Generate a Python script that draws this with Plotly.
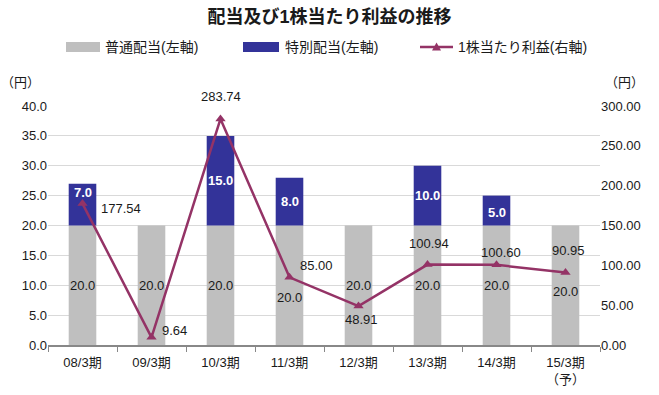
import plotly.graph_objects as go

categories = ["08/3期", "09/3期", "10/3期", "11/3期", "12/3期", "13/3期", "14/3期", "15/3期<br>（予）"]
regular_div = [20.0, 20.0, 20.0, 20.0, 20.0, 20.0, 20.0, 20.0]
special_div = [7.0, None, 15.0, 8.0, None, 10.0, 5.0, None]
eps = [177.54, 9.64, 283.74, 85.00, 48.91, 100.94, 100.60, 90.95]

FONT = "Liberation Sans, Noto Sans CJK JP, sans-serif"
GRAY = "#BFBFBF"
BLUE = "#333399"
LINE = "#943366"
TXT = "#1a1a1a"

# label offsets in pixels (layout only)
reg_yshift = [0, 0, 0, -12, 0, 0, 0, -6]
spec_yshift = [12, 0, 0, 0, 0, 0, -2, 0]
eps_shift = [(38, -5), (23, 7), (0, 22), (27, 12), (3, -13), (1, 21), (4, 12), (3, 22)]

fig = go.Figure()
fig.add_trace(go.Bar(
    x=categories, y=regular_div, name="普通配当(左軸)",
    marker=dict(color=GRAY, line=dict(width=0)),
    yaxis="y", offsetgroup="a", showlegend=False,
))
fig.add_trace(go.Bar(
    x=categories, y=special_div, name="特別配当(左軸)",
    marker=dict(color=BLUE, line=dict(width=0)),
    yaxis="y", offsetgroup="a", base=regular_div, showlegend=False,
))
fig.add_trace(go.Scatter(
    x=categories, y=eps, name="1株当たり利益(右軸)", yaxis="y2",
    mode="lines+markers",
    line=dict(color=LINE, width=2.5),
    marker=dict(symbol="triangle-up", size=9, color=LINE),
    showlegend=False,
))

annotations = []
for i, c in enumerate(categories):
    annotations.append(dict(
        x=c, y=regular_div[i] / 2, xref="x", yref="y", text=f"{regular_div[i]:.1f}",
        showarrow=False, yshift=reg_yshift[i], font=dict(size=13, color=TXT)))
    if special_div[i] is not None:
        annotations.append(dict(
            x=c, y=regular_div[i] + special_div[i] / 2, xref="x", yref="y",
            text=f"<b>{special_div[i]:.1f}</b>", showarrow=False, yshift=spec_yshift[i],
            font=dict(size=13, color="white")))
    annotations.append(dict(
        x=c, y=eps[i], xref="x", yref="y2", text=f"{eps[i]:.2f}", showarrow=False,
        xshift=eps_shift[i][0], yshift=eps_shift[i][1], font=dict(size=13, color=TXT)))

# unit labels
annotations.append(dict(text="（円）", xref="paper", yref="paper", x=-0.05, y=1.1,
                        xanchor="center", yanchor="middle", showarrow=False, font=dict(size=13)))
annotations.append(dict(text="（円）", xref="paper", yref="paper", x=1.045, y=1.1,
                        xanchor="center", yanchor="middle", showarrow=False, font=dict(size=13)))

# manual legend (wide swatches like the reference)
def px_x(px):
    return (px - 48) / 552

def px_y(py):
    return (345 - py) / 239

LEG_Y = 47
TRI_X = 436.5
shapes = [
    dict(type="rect", xref="paper", yref="paper", x0=px_x(66), x1=px_x(100),
         y0=px_y(LEG_Y + 5), y1=px_y(LEG_Y - 5), fillcolor=GRAY, line=dict(width=0)),
    dict(type="rect", xref="paper", yref="paper", x0=px_x(243), x1=px_x(279),
         y0=px_y(LEG_Y + 5), y1=px_y(LEG_Y - 5), fillcolor=BLUE, line=dict(width=0)),
    dict(type="line", xref="paper", yref="paper", x0=px_x(420), x1=px_x(453),
         y0=px_y(LEG_Y), y1=px_y(LEG_Y), line=dict(color=LINE, width=2.5)),
    dict(type="path", xref="paper", yref="paper",
         path=(f"M {px_x(TRI_X - 4.5)},{px_y(LEG_Y + 3.5)} L {px_x(TRI_X + 4.5)},{px_y(LEG_Y + 3.5)} "
               f"L {px_x(TRI_X)},{px_y(LEG_Y - 4.5)} Z"),
         fillcolor=LINE, line=dict(width=0)),
]
legend_texts = [("普通配当(左軸)", 103), ("特別配当(左軸)", 283), ("1株当たり利益(右軸)", 456)]
for t, xpx in legend_texts:
    annotations.append(dict(text=t, xref="paper", yref="paper", x=px_x(xpx), y=px_y(LEG_Y),
                            xanchor="left", yanchor="middle", showarrow=False,
                            font=dict(size=14, color=TXT)))

fig.update_layout(
    width=659, height=395,
    margin=dict(l=48, r=59, t=106, b=50, autoexpand=False),
    paper_bgcolor="white", plot_bgcolor="white",
    font=dict(family=FONT, size=13, color=TXT),
    title=dict(text="<b>配当及び1株当たり利益の推移</b>", x=0.5, xanchor="center",
               y=1 - 17 / 395, yanchor="middle", font=dict(size=18, color=TXT)),
    barmode="overlay", bargap=0.6,
    showlegend=False,
    xaxis=dict(showline=True, linecolor="#888888", linewidth=1.5,
               ticks="outside", tickson="boundaries", ticklen=5, tickcolor="#888888",
               tickfont=dict(size=13), automargin=False, ticklabelstandoff=5),
    yaxis=dict(range=[0, 40], dtick=5, tickformat=".1f", showgrid=True,
               gridcolor="#D9D9D9", zeroline=False, showline=False,
               tickfont=dict(size=13), automargin=False),
    yaxis2=dict(range=[0, 300], dtick=50, tickformat=".2f", overlaying="y", side="right",
                showgrid=False, zeroline=False, showline=False,
                tickfont=dict(size=13), automargin=False),
    annotations=annotations,
    shapes=shapes,
)

fig.write_html("out.html", config={"displayModeBar": False},
               post_script="document.body.style.margin='0';")
